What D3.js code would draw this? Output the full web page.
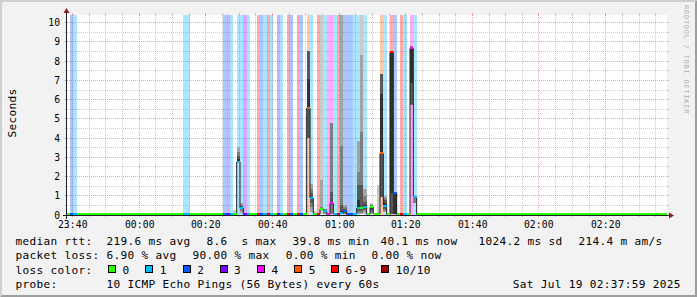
<!DOCTYPE html>
<html><head><meta charset="utf-8">
<script src="https://cdn.jsdelivr.net/npm/d3@7"></script>
<style>
html,body{margin:0;padding:0;background:#f2f2f2;}
svg{display:block;}
text{font-family:"DejaVu Sans Mono",monospace;}
</style></head><body>
<svg id="c" width="697" height="297"></svg>
<script>
// ---------------- DATA ----------------
const xTickLabels = ["23:40","00:00","00:20","00:40","01:00","01:20","01:40","02:00","02:20"];
const yTickValues = [0,1,2,3,4,5,6,7,8,9,10];
const yMax = 10.4;

// loss per one-minute step (step labelled by its start minute); other minutes have 0 loss
const lossMinutes = ["23:39","23:40","00:13","00:14","00:25","00:26","00:27","00:29","00:30","00:31","00:32","00:35","00:36","00:37","00:38","00:39","00:41","00:42","00:44","00:45","00:47","00:48","00:50","00:51","00:53","00:55","00:56","00:57","00:58","00:59","01:00","01:01","01:02","01:03","01:04","01:05","01:07","01:12","01:13","01:15","01:16","01:18","01:19","01:21","01:22"];
const lossCounts  = [2,1,1,1,2,3,1,1,1,3,1,7,2,1,6,1,3,1,7,2,6,2,5,1,9,1,4,4,1,7,1,2,2,2,1,1,1,5,1,6,2,7,1,4,1];

// received ping round-trip times (seconds, sorted) for minutes with visible smoke
const smokeMinutes = ["00:28","00:29","00:30","00:50","00:51","00:52","00:54","00:55","00:57","01:00","01:01","01:05","01:06","01:07","01:09","01:11","01:12","01:13","01:15","01:16","01:21","01:22"];
const smokePings = [
  [0.04,0.04,0.04,0.05,0.05,0.05,0.06,0.08,0.12,0.25],
  [0.05,2.72,2.73,2.74,2.76,2.9,3.05,3.3,3.54],
  [0.04,0.1,0.2,0.3,0.36,0.4,0.45,0.5,0.6],
  [0.05,4.0,5.56,7.07,8.54],
  [0.05,0.15,0.4,0.6,0.88,0.95,1.15,1.37,1.63],
  [0.04,0.04,0.04,0.04,0.05,0.05,0.05,0.06,0.08,0.2],
  [0.04,0.26,0.27,0.28,0.29,0.3,0.35,0.4,1.82,11],
  [0.04,0.07,0.1,0.15,0.2,0.22,0.25,0.3,0.33],
  [0.05,0.5,0.55,0.6,1.2,4.8],
  [0.04,0.05,0.06,0.07,0.1,0.2,0.5,3.6,11],
  [0.05,0.07,0.1,0.15,0.2,0.3,0.4,0.5],
  [0.04,0.05,0.1,0.2,0.36,0.78,1.56,2.24,3.85],
  [0.04,0.05,0.1,0.2,0.3,0.36,1.56,4.3,8.3,11],
  [0.04,0.1,0.2,0.3,0.4,0.5,0.7,1.0,1.35],
  [0.04,0.07,0.12,0.2,0.3,0.41,0.45,0.5,0.55,0.6],
  [0.04,0.05,0.05,0.05,0.06,0.06,0.07,0.1,0.15,1.56],
  [0.05,0.95,3.2,6.3,7.33],
  [0.04,0.15,0.2,0.3,0.45,0.6,0.8,0.9,1.0],
  [0.05,1.13,8.46,8.5],
  [0.04,0.04,0.04,0.05,1.13,1.15,1.17,1.2],
  [5.7,5.79,6.86,8.67,8.72,8.8],
  [0.04,0.6,0.62,0.9,0.95,0.96,0.97,0.98,1.0]
];
// typical pings of an undisturbed minute
const quietPings = [0.038,0.039,0.039,0.040,0.040,0.040,0.041,0.041,0.042,0.043];

const lossLegendLabels = ["0","1","2","3","4","5","6-9","10/10"];
const lossLegendColors = ["#26ff00","#00b8ff","#0059ff","#7e00ff","#ff00ff","#ff5500","#ff0000","#a00000"];
const rttLegend  = ["219.6 ms avg","8.6  s max","39.8 ms min","40.1 ms now","1024.2 ms sd","214.4 m am/s"];
const lossLegend = ["6.90 % avg","90.00 % max","0.00 % min","0.00 % now"];
const probeText = "10 ICMP Echo Pings (56 Bytes) every 60s";
const dateText = "Sat Jul 19 02:37:59 2025";

// ---------------- LAYOUT ----------------
const W=697,H=297,X0=67,X1=667,Y0=215,Y1=15;
const svg=d3.select("#c");
svg.append("rect").attr("width",W).attr("height",H).attr("fill","#f2f2f2");
svg.append("path").attr("d","M0,297L2,295L2,2L695,2L697,0L0,0Z").attr("fill","#cfcfcf");
svg.append("path").attr("d","M2,295L695,295L695,2L697,0L697,297L0,297Z").attr("fill","#9e9e9e");
svg.append("rect").attr("x",X0).attr("y",Y1).attr("width",X1-X0).attr("height",Y0-Y1).attr("fill","#fff");

const x = d3.scaleTime().domain([new Date(2025,6,18,23,38,24), new Date(2025,6,19,2,38,24)]).range([X0,X1]);
const y = d3.scaleLinear().domain([0,yMax]).range([Y0,Y1]);
const px = v => Math.floor(v)+0.5;

svg.append("clipPath").attr("id","cp").append("rect").attr("x",X0).attr("y",Y1).attr("width",X1-X0).attr("height",Y0-Y1);

// grid
const grid = svg.append("g");
function hline(v, col){
  const yy=px(y(v));
  grid.append("line").attr("x1",X0-2).attr("x2",X0).attr("y1",yy).attr("y2",yy).attr("stroke",col);
  grid.append("line").attr("x1",X1).attr("x2",X1+2).attr("y1",yy).attr("y2",yy).attr("stroke",col);
  grid.append("line").attr("x1",X0).attr("x2",X1).attr("y1",yy).attr("y2",yy).attr("stroke",col).attr("stroke-dasharray","1,1");
}
function vline(t, col){
  const xx=px(x(t));
  grid.append("line").attr("x1",xx).attr("x2",xx).attr("y1",Y1-2).attr("y2",Y1).attr("stroke",col);
  grid.append("line").attr("x1",xx).attr("x2",xx).attr("y1",Y0).attr("y2",Y0+2).attr("stroke",col);
  grid.append("line").attr("x1",xx).attr("x2",xx).attr("y1",Y1).attr("y2",Y0).attr("stroke",col).attr("stroke-dasharray","1,1");
}
const minorCol="rgba(143,143,143,0.45)", majorCol="rgba(222,79,79,0.5)";
d3.range(0.5,yMax,0.5).filter(v=>v%1!==0).forEach(v=>hline(v,minorCol));
x.ticks(d3.timeMinute.every(5)).filter(t=>t.getMinutes()%20!==0).forEach(t=>vline(t,minorCol));
yTickValues.filter(v=>v>0).forEach(v=>hline(v,majorCol));
const majorTimes = xTickLabels.map(s=>{const [h,m]=s.split(":").map(Number);return new Date(2025,6,h>=12?18:19,h,m,0);});
majorTimes.forEach(t=>vline(t,majorCol));

// steps
const fmt=d3.timeFormat("%H:%M");
const T0=new Date(2025,6,18,23,39,18);
const steps=d3.range(-1,180).map(k=>{
  const t0=new Date(+T0+k*60000), t1=new Date(+t0+60000);
  const key=fmt(t0);
  const li=lossMinutes.indexOf(key);
  const loss=li>=0?lossCounts[li]:0;
  const si=smokeMinutes.indexOf(key);
  const pings=si>=0?smokePings[si]:quietPings.slice(0,10-loss);
  const median=pings.length?pings[Math.floor(pings.length/2)]:null;
  return {t0,t1,loss,pings,median};
});
const lossIdx = l => l<=5?l:(l<10?6:7);

const plot=svg.append("g").attr("clip-path","url(#cp)");
// loss background
plot.append("g").selectAll("rect").data(steps.filter(s=>s.loss>0)).join("rect")
  .attr("x",s=>x(s.t0)).attr("width",s=>x(s.t1)-x(s.t0))
  .attr("y",Y1).attr("height",Y0-Y1)
  .attr("fill",s=>lossLegendColors[lossIdx(s.loss)]).attr("fill-opacity",0.333)
  .attr("shape-rendering","crispEdges");

// smoke
function smokeLayers(pings,loss){
  const slots=new Array(10).fill(null);
  const lower=Math.floor(loss/2);
  pings.forEach((v,i)=>slots[lower+i]=v);
  const out=[];
  for(let ibot=1,itop=10;itop>ibot;ibot++,itop--){
    const a=slots[ibot-1],b=slots[itop-1];
    if(a==null||b==null) continue;
    const c=Math.floor(190/5*(5-ibot))+50;
    out.push({lo:a,hi:b,color:d3.rgb(c,c,c).formatHex()});
  }
  return out;
}
const smokeData=[];
steps.forEach(s=>{ if(s.pings.length>2) smokeLayers(s.pings,s.loss).forEach(l=>smokeData.push({s,...l})); });
plot.append("g").selectAll("rect").data(smokeData).join("rect")
  .attr("x",d=>x(d.s.t0)).attr("width",d=>x(d.s.t1)-x(d.s.t0))
  .attr("y",d=>y(Math.min(d.hi,yMax+1))).attr("height",d=>Math.max(0,y(d.lo)-y(Math.min(d.hi,yMax+1))))
  .attr("fill",d=>d.color).attr("shape-rendering","crispEdges");

// median line
const pts=[];
steps.forEach(s=>{ if(s.median!=null){pts.push([x(s.t0),y(s.median)]);pts.push([x(s.t1),y(s.median)]);} });
plot.append("path").attr("d",d3.line()(pts)).attr("fill","none").attr("stroke","#202020").attr("stroke-width",1);

// median boxes coloured by loss
const sw=yMax/200;
plot.append("g").selectAll("rect").data(steps.filter(s=>s.median!=null)).join("rect")
  .attr("x",s=>x(s.t0)).attr("width",s=>x(s.t1)-x(s.t0))
  .attr("y",s=>y(s.median+sw)).attr("height",s=>y(s.median-sw)-y(s.median+sw))
  .attr("fill",s=>lossLegendColors[lossIdx(s.loss)]).attr("shape-rendering","crispEdges");

// axes
const axisCol="#1f1f1f", arrowCol="#801f1f";
svg.append("line").attr("x1",X0-4).attr("x2",X1+4).attr("y1",Y0+0.5).attr("y2",Y0+0.5).attr("stroke",axisCol);
svg.append("line").attr("x1",X0-0.5).attr("x2",X0-0.5).attr("y1",Y0+4).attr("y2",Y1-4).attr("stroke",axisCol);
svg.append("path").attr("d",`M${X1+2},${Y0-2.5}L${X1+2},${Y0+3.5}L${X1+7},${Y0+0.5}Z`).attr("fill",arrowCol);
svg.append("path").attr("d",`M${X0-3.5},${Y1-2}L${X0+2.5},${Y1-2}L${X0-0.5},${Y1-7}Z`).attr("fill",arrowCol);

// tick labels
svg.append("g").selectAll("text").data(yTickValues).join("text")
  .attr("x",60).attr("y",v=>px(y(v))+3.3).attr("text-anchor","end")
  .attr("font-size","9.72px").attr("fill","#000").text(v=>v);
svg.append("g").selectAll("text").data(xTickLabels).join("text")
  .attr("x",(d,i)=>px(x(majorTimes[i]))+0.3).attr("y",228).attr("text-anchor","middle")
  .attr("font-size","9.72px").attr("letter-spacing","0.1px").attr("fill","#000").text(d=>d);

// y label
svg.append("text").attr("transform","translate(15.5,113) rotate(-90)").attr("text-anchor","middle")
  .attr("font-size","11.1px").attr("letter-spacing","0.3px").attr("fill","#000").text("Seconds");
// watermark
svg.append("text").attr("transform","translate(683.5,5) rotate(90)")
  .attr("font-size","7px").attr("letter-spacing","0.75px").attr("fill","#000").attr("fill-opacity",0.3)
  .text("RRDTOOL / TOBI OETIKER");

// legend
const lg=svg.append("g").attr("font-size","11.1px").attr("letter-spacing","0.32px").attr("fill","#000").style("white-space","pre");
function lt(xx,yy,s){ lg.append("text").attr("x",xx).attr("y",yy).attr("xml:space","preserve").text(s); }
const L1=245,L2=259.4,L3=273.8,L4=288;
lt(15.5,L1,"median rtt:");
[106.6,206.6,292.4,380.4,478.6,578.6].forEach((xx,i)=>lt(xx,L1,rttLegend[i]));
lt(15.5,L2,"packet loss:");
[106.6,192.4,285.7,371.5].forEach((xx,i)=>lt(xx,L2,lossLegend[i]));
lt(15.5,L3,"loss color:");
const boxX=[108,145.3,182.7,219.6,256.9,294.2,331.1,381.3];
boxX.forEach((bx,i)=>{
  const bxr=Math.round(bx);
  svg.append("rect").attr("x",bxr+0.5).attr("y",265.5).attr("width",7).attr("height",7)
    .attr("fill",lossLegendColors[i]).attr("stroke","#000").attr("stroke-width",1);
  lt(bx+14.5,L3,lossLegendLabels[i]);
});
lt(15.5,L4,"probe:");
lt(106.6,L4,probeText);
lt(512.8,L4,dateText);
</script>
</body></html>
